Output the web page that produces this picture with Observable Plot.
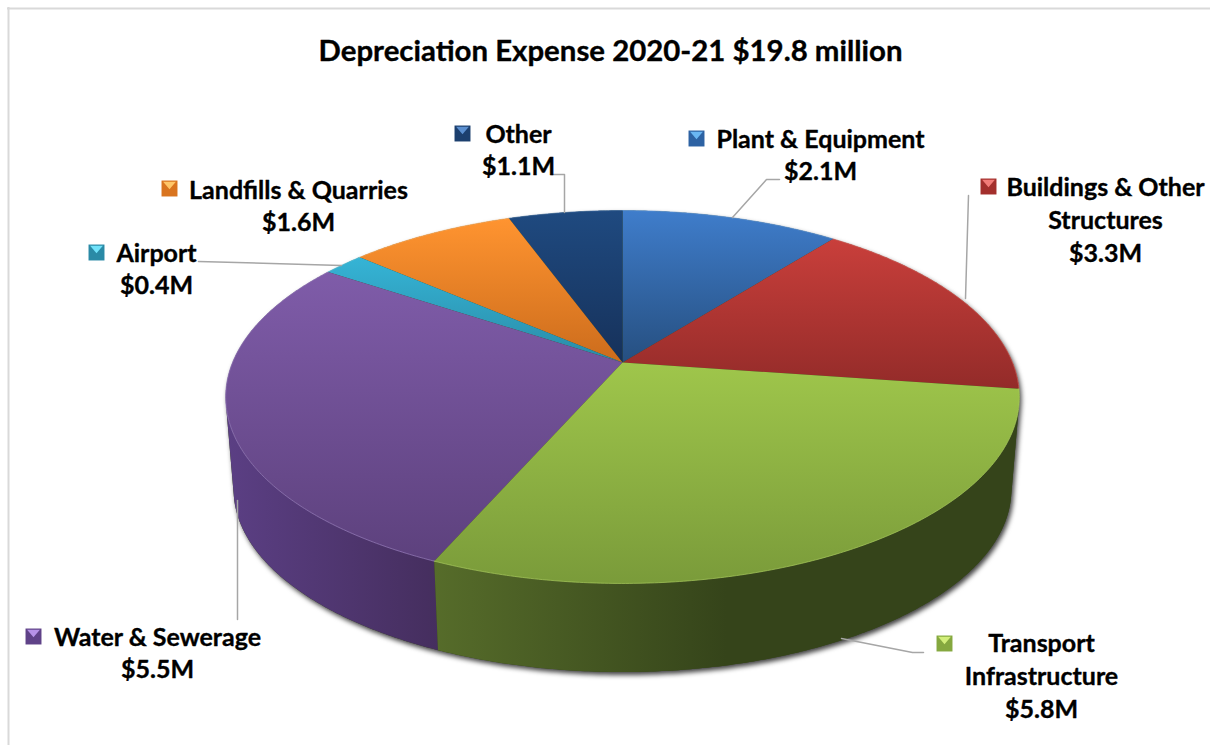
<!DOCTYPE html>
<html>
<head>
<meta charset="utf-8">
<script src="https://cdn.jsdelivr.net/npm/d3@7"></script>
<script src="https://cdn.jsdelivr.net/npm/@observablehq/plot@0.6"></script>
<style>
  html, body { margin: 0; padding: 0; background: #fff; }
  svg { display: block; }
  .solid-shadow { filter: drop-shadow(2px 3px 2.5px rgba(0,0,0,0.75)); }
</style>
</head>
<body>
<div id="chart"></div>
<script>
// Depreciation expense by asset class, $ million, clockwise from twelve o'clock
const categories = ["Plant & Equipment", "Buildings & Other\nStructures", "Transport\nInfrastructure",
                    "Water & Sewerage", "Airport", "Landfills & Quarries", "Other"];
const amounts = [2.1, 3.3, 5.8, 5.5, 0.4, 1.6, 1.1];
const title = "Depreciation Expense 2020-21 $19.8 million";

// Colours for each slice: top face (upper, lower), side wall (left, right), rim, key
const faceLight = ["#3f7dcb", "#c93f3b", "#9fc64b", "#7f5ca9", "#35b4d6", "#ff9430", "#1f4a80"];
const faceDark  = ["#264f80", "#932b29", "#7a9b3a", "#5d417d", "#2a8ba6", "#cc6c1c", "#16315a"];
const wallLeft  = ["#1d3d63", "#6e1f1d", "#566c2a", "#5b3f84", "#1f6a7e", "#99511a", "#102542"];
const wallRight = ["#1d3d63", "#6e1f1d", "#35441a", "#452e5e", "#1f6a7e", "#99511a", "#102542"];
const wallFade  = [1, 1, 0.5, 1, 1, 1, 1];
const rimColor  = ["#5b93d6", "#d9605c", "#a9cc5e", "#9a7cc4", "#60c8e2", "#ffae60", "#3d6aa3"];
const keyDark   = ["#2d62a3", "#a32f2c", "#85a83f", "#5f4288", "#2a8aa6", "#d9741f", "#1c3f6e"];
const keyLight  = ["#6ab6f2", "#f27c78", "#d2ee7a", "#b692e8", "#70e2fa", "#ffc668", "#5b8fd0"];

// Layout of the text blocks, leader lines and keys, in chart units
const labelX = [820, 1105, 1041, 157, 156, 298, 518];
const labelY = [153, 218, 674, 651, 267, 204, 148];
const keyX = [696, 988, 944, 33, 96, 169, 462];
const keyY = [138, 186, 643, 636, 252, 188, 133];
const leaders = [
  [[732, 217], [766, 179], [779, 179]],
  [[965, 298], [968, 195]],
  [[841, 638], [912, 652], [923, 652]],
  [[237, 500], [237, 619]],
  [[198, 261], [341, 265]],
  [],
  [[564, 212], [564, 174], [551, 174]]
];

// Perspective view of the disc
const apex = {x: 622, y: 362};
const spread = 390, lift = 113.1, foreshorten = -0.185;
const wallScale = 0.98, wallDrop = 93;

const total = d3.sum(amounts);
const cumulative = d3.cumsum(amounts);
const startAngle = i => (i === 0 ? 0 : cumulative[i - 1]) / total * 2 * Math.PI;
const endAngle = i => cumulative[i] / total * 2 * Math.PI;

const rim = a => {
  const u = Math.sin(a), v = -Math.cos(a), w = 1 + foreshorten * v;
  return {x: apex.x + spread * u / w, y: (apex.y + lift * v) / w, a};
};
const floor = p => ({
  x: apex.x + wallScale * (p.x - apex.x),
  y: apex.y + wallScale * (p.y - apex.y) + wallDrop
});
const arc = (a0, a1) => {
  const n = Math.max(2, Math.ceil((a1 - a0) / (Math.PI / 360)));
  return d3.range(n + 1).map(k => rim(a0 + (a1 - a0) * k / n));
};

// A rim point carries a visible wall when the wall faces the viewer there
const facesFront = p => {
  const e = 1e-3, p0 = rim(p.a - e), p1 = rim(p.a + e), q = floor(p);
  return (p1.x - p0.x) * (q.y - p.y) - (p1.y - p0.y) * (q.x - p.x) < 0;
};

const slices = amounts.map((_, i) => arc(startAngle(i), endAngle(i)));
const face = slices.map(pts => [apex, ...pts]);
const wall = slices.map(pts => {
  const front = pts.filter(facesFront);
  return [...front, ...front.map(floor).reverse()];
});
const outline = d3.polygonHull(slices.flat().flatMap(p => {
  const q = floor(p);
  return [[p.x, p.y], [q.x, q.y]];
})).map(([x, y]) => ({x, y}));

// Gradient definitions shared by the faces and walls
const gradients = () => {
  const defs = d3.create("svg:defs");
  const add = (id, x2, y2, c0, c1, fade) => {
    const g = defs.append("linearGradient").attr("id", id)
      .attr("x1", 0).attr("y1", 0).attr("x2", x2).attr("y2", y2);
    g.append("stop").attr("offset", 0).attr("stop-color", c0);
    g.append("stop").attr("offset", fade).attr("stop-color", c1);
  };
  amounts.forEach((_, i) => {
    add(`face${i}`, 0, 1, faceLight[i], faceDark[i], 1);
    add(`wall${i}`, 1, 0, wallLeft[i], wallRight[i], wallFade[i]);
  });
  return defs.node();
};

// Key swatch highlight: an inverted triangle in the upper half of a square
const keyBevel = {
  draw(context, size) {
    const h = Math.sqrt(size) / 2;
    context.moveTo(-h * 0.8, -h * 0.85);
    context.lineTo(h * 0.8, -h * 0.85);
    context.lineTo(0, h * 0.1);
    context.closePath();
  }
};

const closed = {x: "x", y: "y", curve: "linear-closed"};
const order = [0, 6, 5, 4, 1, 3, 2];
const keyR = 9;
const inkStroke = {stroke: "#000", strokeWidth: 0.35, fill: "#000"};

const marks = [
  gradients,
  // chart frame
  Plot.ruleY([8], {x1: 7, x2: 1210, stroke: "#d9d9d9", strokeWidth: 2}),
  Plot.ruleX([8], {y1: 7, y2: 745, stroke: "#d9d9d9", strokeWidth: 2}),
  // soft shadow under the solid
  Plot.line(outline, {...closed, fill: "#35441a", stroke: "none", className: "solid-shadow"}),
  // side walls, then top faces
  ...order.filter(i => wall[i].length).map(i => Plot.line(wall[i], {...closed, fill: `url(#wall${i})`, stroke: "none"})),
  ...order.map(i => Plot.line(face[i], {...closed, fill: `url(#face${i})`, stroke: "none"})),
  ...order.map(i => Plot.line(slices[i], {x: "x", y: "y", stroke: rimColor[i], strokeWidth: 1, strokeOpacity: 0.7})),
  // leader lines
  ...leaders.filter(l => l.length).map(l => Plot.line(l.map(([x, y]) => ({x, y})), {x: "x", y: "y", stroke: "#a6a6a6", strokeWidth: 1.5})),
  // keys
  Plot.dot(categories, {x: (_, i) => keyX[i], y: (_, i) => keyY[i], symbol: "square", r: keyR, fill: (_, i) => keyDark[i], stroke: "none"}),
  Plot.dot(categories, {x: (_, i) => keyX[i], y: (_, i) => keyY[i], symbol: keyBevel, r: keyR, fill: (_, i) => keyLight[i], stroke: "none"}),
  // title and labels
  Plot.text([title], {x: 610, y: 51, text: d => d, fontSize: 29.4, fontWeight: 700, ...inkStroke}),
  Plot.text(categories, {
    x: (_, i) => labelX[i],
    y: (_, i) => labelY[i],
    text: (d, i) => `${d}\n$${amounts[i].toFixed(1)}M`,
    fontSize: 25,
    fontWeight: 700,
    ...inkStroke,
    lineHeight: 1.31
  })
];

const chart = Plot.plot({
  width: 1210,
  height: 745,
  margin: 0,
  style: {fontFamily: "Lato, Carlito, sans-serif", background: "#fff"},
  x: {domain: [0, 1210], range: [0, 1210], axis: null},
  y: {domain: [0, 745], range: [0, 745], axis: null},
  color: {type: "identity"},
  marks
});
document.getElementById("chart").appendChild(chart);
</script>
</body>
</html>
